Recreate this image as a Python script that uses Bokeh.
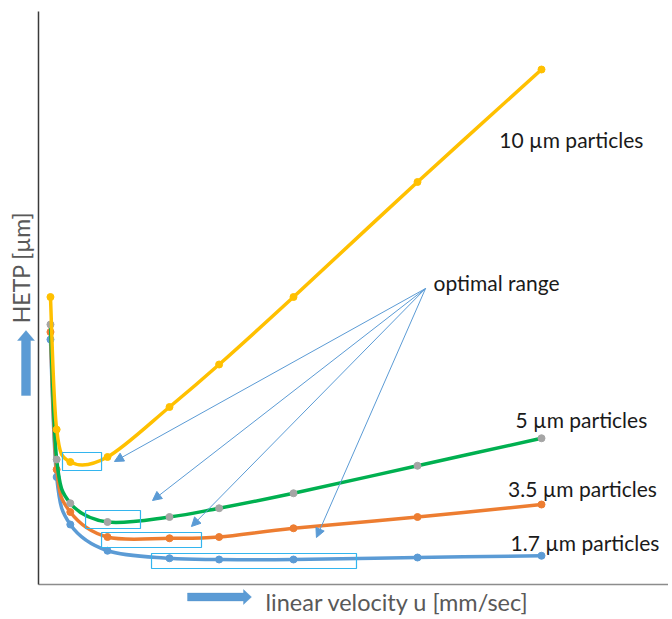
import math
from bokeh.plotting import figure
from bokeh.models import Range1d, Label, Arrow, NormalHead, PolyAnnotation
from bokeh.embed import file_html
from bokeh.resources import INLINE

# ---- data ----
velocity = [0.04, 0.09, 0.2, 0.5, 1.0, 1.4, 2.0, 3.0, 4.0]
hetp_10um = [11.5, 6.2, 4.9, 5.1, 7.1, 8.8, 11.5, 16.1, 20.6]
hetp_5um = [10.4, 5.0, 3.25, 2.5, 2.7, 3.05, 3.65, 4.75, 5.85]
hetp_3_5um = [10.1, 4.6, 2.9, 1.9, 1.85, 1.9, 2.25, 2.7, 3.2]
hetp_1_7um = [9.8, 4.3, 2.4, 1.35, 1.05, 1.0, 1.0, 1.08, 1.15]

series_names = ["10 \u00b5m particles", "5 \u00b5m particles", "3.5 \u00b5m particles", "1.7 \u00b5m particles"]
label_x = [3.66, 3.79, 3.73, 3.75]
label_y = [17.8, 6.6, 3.84, 1.68]

# optimal-range boxes
box_u0 = [0.137, 0.323, 0.452, 0.855]
box_u1 = [0.452, 0.766, 1.258, 2.508]
box_h0 = [4.56, 2.24, 1.48, 0.64]
box_h1 = [5.28, 2.96, 2.08, 1.24]

# annotation arrows
arrow_origin = (3.065, 11.84)
arrow_tip_u = [0.556, 0.863, 1.177, 2.185]
arrow_tip_h = [4.92, 3.36, 2.32, 1.88]
annot_text = "optimal range"
annot_pos = (3.129, 12.08)

x_title = "linear velocity u [mm/sec]"
y_title = "HETP [\u00b5m]"

# axes extent (data units)
axis_u = -0.0565
axis_h = 0.0
axis_h_top = 22.92
axis_u_right = 5.2

FONT = "Lato"

# pixel->data helpers for decorative shapes only
PX_U0, PX_PER_U = 46.0, 124.0
PY_H0, PX_PER_H = 585.0, 25.0


def u_of(px):
    return (px - PX_U0) / PX_PER_U


def h_of(py):
    return (PY_H0 - py) / PX_PER_H


W, H = 668, 615
OFF = 1  # page offset of canvas
p = figure(width=W, height=H,
           x_range=Range1d(u_of(OFF), u_of(OFF + W)),
           y_range=Range1d(h_of(OFF + H), h_of(OFF)),
           x_axis_type=None, y_axis_type=None,
           output_backend="svg", toolbar_location=None,
           min_border=0)
p.outline_line_color = None
p.background_fill_color = "white"
p.border_fill_color = "white"

# axis lines
p.segment(x0=[axis_u], y0=[axis_h], x1=[axis_u_right], y1=[axis_h],
          line_color="#8c8c8c", line_width=1.5)
p.segment(x0=[axis_u], y0=[axis_h], x1=[axis_u], y1=[axis_h_top],
          line_color="#3a3a3a", line_width=1.5)


def bezier_parts(xs, ys):
    n = len(xs)
    out = dict(x0=[], y0=[], x1=[], y1=[], cx0=[], cy0=[], cx1=[], cy1=[])
    for i in range(n - 1):
        a = max(i - 1, 0)
        b = min(i + 2, n - 1)
        out["x0"].append(xs[i]); out["y0"].append(ys[i])
        out["x1"].append(xs[i + 1]); out["y1"].append(ys[i + 1])
        out["cx0"].append(xs[i] + (xs[i + 1] - xs[a]) / 6.0)
        out["cy0"].append(ys[i] + (ys[i + 1] - ys[a]) / 6.0)
        out["cx1"].append(xs[i + 1] - (xs[b] - xs[i]) / 6.0)
        out["cy1"].append(ys[i + 1] - (ys[b] - ys[i]) / 6.0)
    return out


series = [
    (hetp_1_7um, "#5B9BD5", "#5B9BD5"),
    (hetp_3_5um, "#ED7D31", "#ED7D31"),
    (hetp_5um, "#00B050", "#A5A5A5"),
    (hetp_10um, "#FFC000", "#FFC000"),
]
for ys, lc, mc in series:
    bz = bezier_parts(velocity, ys)
    p.bezier(source=bz, x0="x0", y0="y0", x1="x1", y1="y1",
             cx0="cx0", cy0="cy0", cx1="cx1", cy1="cy1",
             line_color=lc, line_width=3.5, line_cap="round")
    p.scatter(velocity, ys, size=7, fill_color=mc, line_color=mc)

# optimal range boxes
p.quad(left=box_u0, right=box_u1, bottom=box_h0, top=box_h1,
       fill_color=None, line_color="#33B5EE", line_width=1.2)

# arrows
for tu, th in zip(arrow_tip_u, arrow_tip_h):
    p.add_layout(Arrow(x_start=arrow_origin[0], y_start=arrow_origin[1],
                       x_end=tu, y_end=th,
                       line_color="#5B9BD5", line_width=1,
                       end=NormalHead(size=9, fill_color="#5B9BD5",
                                      line_color="#5B9BD5", line_width=1)))

p.add_layout(Label(x=annot_pos[0], y=annot_pos[1], text=annot_text,
                   text_font=FONT, text_font_size="21px",
                   text_color="#1a1a1a", text_baseline="alphabetic"))

for name, lx, ly in zip(series_names, label_x, label_y):
    p.add_layout(Label(x=lx, y=ly, text=name, text_font=FONT,
                       text_font_size="21px", text_color="#1a1a1a",
                       text_baseline="alphabetic"))

# axis titles
p.add_layout(Label(x=u_of(21), y=h_of(268), text=y_title, angle=math.pi / 2,
                   text_align="center", text_baseline="alphabetic",
                   text_font=FONT, text_font_size="23px",
                   text_color="#595959"))
p.add_layout(Label(x=u_of(266), y=h_of(602), text=x_title,
                   text_align="left", text_baseline="alphabetic",
                   text_font=FONT, text_font_size="23.5px",
                   text_color="#595959"))

# block arrows next to the axis titles
up_px = [26.5, 35, 31, 31, 22, 22, 18]
up_py = [331, 341, 341, 396, 396, 341, 341]
p.add_layout(PolyAnnotation(
    xs=[u_of(v) for v in up_px], ys=[h_of(v) for v in up_py],
    fill_color="#5B9BD5", fill_alpha=1, line_color="#4A8AC4", line_width=1))
rt_px = [188, 244, 244, 252, 244, 244, 188]
rt_py = [593.5, 593.5, 590, 597.5, 605, 601.5, 601.5]
p.add_layout(PolyAnnotation(
    xs=[u_of(v) for v in rt_px], ys=[h_of(v) for v in rt_py],
    fill_color="#5B9BD5", fill_alpha=1, line_color="#4A8AC4", line_width=1))

open("out.html", "w").write(file_html(p, INLINE))
